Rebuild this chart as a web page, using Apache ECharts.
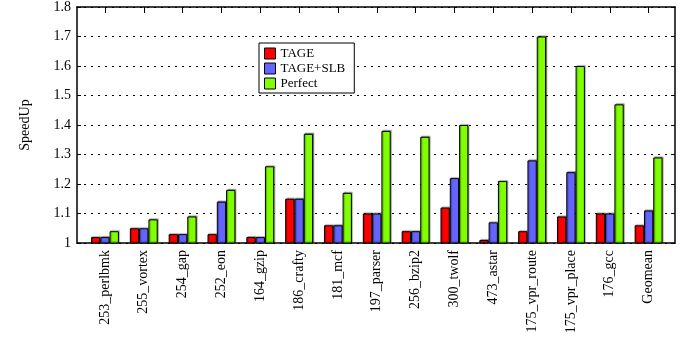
<!DOCTYPE html>
<html>
<head>
<meta charset="utf-8">
<script src="https://cdn.jsdelivr.net/npm/echarts@6/dist/echarts.min.js"></script>
<style>html,body{margin:0;padding:0;background:#fff}#c{width:683px;height:345px}</style>
</head>
<body>
<div id="c"></div>
<script>
const categories = ['253_perlbmk','255_vortex','254_gap','252_eon','164_gzip','186_crafty','181_mcf','197_parser','256_bzip2','300_twolf','473_astar','175_vpr_route','175_vpr_place','176_gcc','Geomean'];
const tage    = [1.02,1.05,1.03,1.03,1.02,1.15,1.06,1.10,1.04,1.12,1.01,1.04,1.09,1.10,1.06];
const tageSlb = [1.02,1.05,1.03,1.14,1.02,1.15,1.06,1.10,1.04,1.22,1.07,1.28,1.24,1.10,1.11];
const perfect = [1.04,1.08,1.09,1.18,1.26,1.37,1.17,1.38,1.36,1.40,1.21,1.70,1.60,1.47,1.29];
const yTicks = [1,1.1,1.2,1.3,1.4,1.5,1.6,1.7,1.8];

const font = 'Liberation Serif';
const idx = categories.map((_, i) => i);
const toData = arr => arr.map((v, i) => [i, v]);
const barStyle = c => ({color: c, borderColor: '#000', borderWidth: 1,
  shadowColor: 'rgba(0,0,0,0.35)', shadowOffsetX: 1, shadowOffsetY: -1, shadowBlur: 1});
const axisLine = {show: true, onZero: false, lineStyle: {color: '#000', width: 1.5}};

const chart = echarts.init(document.getElementById('c'), null, {renderer: 'canvas'});
chart.setOption({
  animation: false,
  backgroundColor: '#fff',
  textStyle: {fontFamily: font},
  grid: {left: 77, right: 8, top: 6, bottom: 102, containLabel: false},
  legend: {
    orient: 'vertical', left: 259, top: 43, icon: 'rect',
    backgroundColor: '#fff', borderColor: '#000', borderWidth: 1,
    padding: [4, 9, 3, 5], itemWidth: 11, itemHeight: 11, itemGap: 2,
    textStyle: {fontFamily: font, fontSize: 13, color: '#000', lineHeight: 13},
    itemStyle: {borderColor: '#000', borderWidth: 1},
    data: ['TAGE', 'TAGE+SLB', 'Perfect']
  },
  xAxis: [{
    type: 'value', min: -0.72, max: 14.68, position: 'bottom',
    axisLine: axisLine,
    splitLine: {show: false},
    axisTick: {show: false},
    axisLabel: {customValues: idx, rotate: 90, margin: 7, fontFamily: font, fontSize: 14, color: '#000',
      formatter: v => categories[Math.round(v)]}
  }, {
    type: 'value', min: -0.72, max: 14.68, position: 'top',
    axisLine: axisLine,
    splitLine: {show: false},
    axisTick: {show: true, inside: true, length: 6, customValues: idx, lineStyle: {color: '#000'}},
    axisLabel: {show: false}
  }],
  yAxis: [{
    type: 'value', min: 1, max: 1.8, interval: 0.1, position: 'left',
    name: 'SpeedUp', nameLocation: 'middle', nameGap: 45,
    nameTextStyle: {fontFamily: font, fontSize: 14, color: '#000'},
    axisLine: axisLine,
    axisTick: {show: true, inside: true, length: 4, lineStyle: {color: '#000'}},
    axisLabel: {customValues: yTicks, margin: 6, fontFamily: font, fontSize: 14, color: '#000',
      formatter: v => String(Math.round(v * 10) / 10)},
    splitLine: {show: true, lineStyle: {color: '#000', type: [2, 5], width: 1}}
  }, {
    type: 'value', min: 1, max: 1.8, interval: 0.1, position: 'right',
    axisLine: axisLine,
    axisTick: {show: true, inside: true, length: 4, lineStyle: {color: '#000'}},
    axisLabel: {show: false},
    splitLine: {show: false}
  }],
  series: [
    {name: 'TAGE', type: 'bar', barWidth: 9.3, barGap: '0%', data: toData(tage), itemStyle: barStyle('#ff0000')},
    {name: 'TAGE+SLB', type: 'bar', barWidth: 9.3, barGap: '0%', data: toData(tageSlb), itemStyle: barStyle('#6464ff')},
    {name: 'Perfect', type: 'bar', barWidth: 9.3, barGap: '0%', data: toData(perfect), itemStyle: barStyle('#7fff00')}
  ]
});
</script>
</body>
</html>
